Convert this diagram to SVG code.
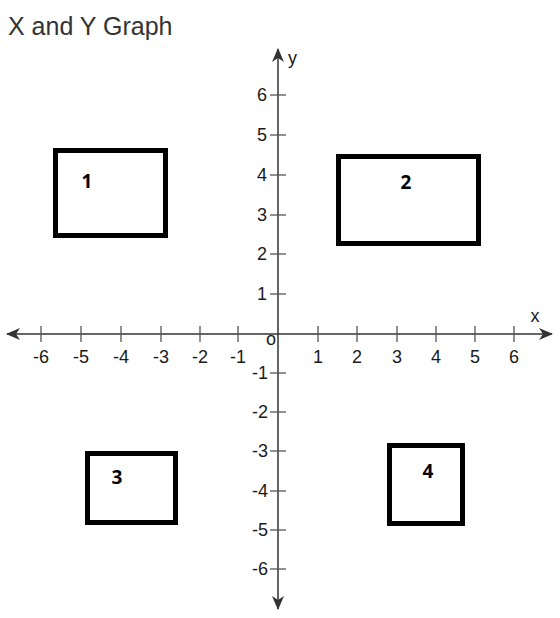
<svg xmlns="http://www.w3.org/2000/svg" width="560" height="618" viewBox="0 0 560 618">
<style>
.title{font-family:"Liberation Sans",Arial,sans-serif;font-size:25px;fill:#333}
.lbl{font-family:"Liberation Sans",Arial,sans-serif;font-size:18px;fill:#1a1a1a}
.ax{stroke:#333;stroke-width:1.5;fill:none}
.tk{stroke:#555;stroke-width:1.3}
.box{fill:none;stroke:#000;stroke-width:5}
.num{font-family:"Open Sans","Liberation Sans",sans-serif;font-weight:700;font-size:19px;fill:#000;text-anchor:middle}
</style>
<defs>
<marker id="arr" viewBox="0 0 14 12" refX="13" refY="6" markerWidth="14" markerHeight="12" markerUnits="userSpaceOnUse" orient="auto">
<path d="M0,0 L14,6 L0,12 L4,6 Z" fill="#333"/>
</marker>
</defs>
<rect width="560" height="618" fill="#fff"/>
<text class="title" x="8" y="35">X and Y Graph</text>
<g id="connectors">
<line class="ax" x1="278" y1="334" x2="7" y2="334" marker-end="url(#arr)"/>
<line class="ax" x1="278" y1="334" x2="552" y2="334" marker-end="url(#arr)"/>
<line class="ax" x1="278" y1="334" x2="278" y2="49" marker-end="url(#arr)"/>
<line class="ax" x1="278" y1="334" x2="278" y2="609" marker-end="url(#arr)"/>
</g>
<g id="xticks" class="tk">
<line x1="41" y1="326" x2="41" y2="342"/><line x1="81" y1="326" x2="81" y2="342"/>
<line x1="121" y1="326" x2="121" y2="342"/><line x1="161" y1="326" x2="161" y2="342"/>
<line x1="200" y1="326" x2="200" y2="342"/><line x1="238" y1="326" x2="238" y2="342"/>
<line x1="318" y1="326" x2="318" y2="342"/><line x1="357" y1="326" x2="357" y2="342"/>
<line x1="397" y1="326" x2="397" y2="342"/><line x1="436" y1="326" x2="436" y2="342"/>
<line x1="475" y1="326" x2="475" y2="342"/><line x1="514" y1="326" x2="514" y2="342"/>
</g>
<g id="yticks" class="tk">
<line x1="270" y1="95" x2="286" y2="95"/><line x1="270" y1="135" x2="286" y2="135"/>
<line x1="270" y1="175" x2="286" y2="175"/><line x1="270" y1="215" x2="286" y2="215"/>
<line x1="270" y1="254" x2="286" y2="254"/><line x1="270" y1="294" x2="286" y2="294"/>
<line x1="270" y1="373" x2="286" y2="373"/><line x1="270" y1="412" x2="286" y2="412"/>
<line x1="270" y1="451" x2="286" y2="451"/><line x1="270" y1="491" x2="286" y2="491"/>
<line x1="270" y1="530" x2="286" y2="530"/><line x1="270" y1="569" x2="286" y2="569"/>
</g>
<g id="xlabels" class="lbl" text-anchor="middle">
<text x="41" y="363">-6</text><text x="81" y="363">-5</text><text x="121" y="363">-4</text>
<text x="161" y="363">-3</text><text x="200" y="363">-2</text><text x="238" y="363">-1</text>
<text x="318" y="363">1</text><text x="357" y="363">2</text><text x="397" y="363">3</text>
<text x="436" y="363">4</text><text x="475" y="363">5</text><text x="514" y="363">6</text>
</g>
<g id="ylabels" class="lbl" text-anchor="end">
<text x="267" y="101">6</text><text x="267" y="141">5</text><text x="267" y="181">4</text>
<text x="267" y="221">3</text><text x="267" y="260">2</text><text x="267" y="300">1</text>
<text x="268" y="379">-1</text><text x="268" y="418">-2</text><text x="268" y="457">-3</text>
<text x="268" y="497">-4</text><text x="268" y="536">-5</text><text x="268" y="575">-6</text>
</g>
<text class="lbl" x="271" y="345" text-anchor="middle">o</text>
<text class="lbl" x="535" y="322" text-anchor="middle">x</text>
<text class="lbl" x="288" y="64">y</text>
<g id="box1"><rect class="box" x="55.5" y="150.5" width="110" height="85"/><text class="num" x="87" y="188">1</text></g>
<g id="box2"><rect class="box" x="338.5" y="156.5" width="140" height="87"/><text class="num" x="406" y="189">2</text></g>
<g id="box3"><rect class="box" x="87.5" y="453.5" width="88" height="69"/><text class="num" x="117" y="484">3</text></g>
<g id="box4"><rect class="box" x="389.5" y="445.5" width="73" height="78"/><text class="num" x="428" y="478">4</text></g>
</svg>
